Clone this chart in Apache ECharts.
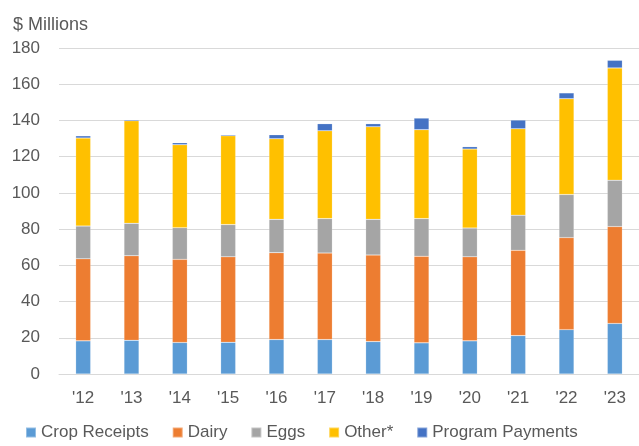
<!DOCTYPE html>
<html>
<head>
<meta charset="utf-8">
<title>Farm receipts by source</title>
<script src="https://cdn.jsdelivr.net/npm/echarts@6/dist/echarts.min.js"></script>
<style>
  html, body { margin: 0; padding: 0; background: #fff; }
  #chart { width: 639px; height: 446px; }
</style>
</head>
<body>
<div id="chart"></div>
<script>
// Annual receipts, $ millions, stacked by source
const years = ["'12", "'13", "'14", "'15", "'16", "'17", "'18", "'19", "'20", "'21", "'22", "'23"];
const cropReceipts    = [18.3, 18.6, 17.4, 17.5, 19.0, 19.0, 17.9, 17.2, 18.3, 21.2, 24.5, 27.9];
const dairy           = [45.3, 46.7, 45.9, 47.2, 48.0, 47.8, 47.8, 47.8, 46.4, 47.1, 50.8, 53.5];
const eggs            = [18.1, 17.9, 17.5, 17.8, 18.4, 19.0, 19.7, 20.8, 15.9, 19.4, 23.8, 25.6];
const other           = [48.6, 56.6, 45.8, 49.0, 44.5, 48.5, 51.1, 49.1, 43.6, 47.7, 52.9, 62.0];
const programPayments = [1.2, 0.6, 1.1, 0.6, 2.2, 3.9, 1.7, 6.4, 1.3, 4.8, 3.2, 4.2];

const seriesNames  = ['Crop Receipts', 'Dairy', 'Eggs', 'Other*', 'Program Payments'];
const seriesValues = [cropReceipts, dairy, eggs, other, programPayments];
const seriesColors = ['#5B9BD5', '#ED7D31', '#A5A5A5', '#FFC000', '#4472C4'];

const FONT = '"Liberation Sans", Arial, sans-serif';
const TEXT = '#595959';

const chart = echarts.init(document.getElementById('chart'), null, { renderer: 'canvas' });

chart.setOption({
  animation: false,
  color: seriesColors,
  title: {
    text: '$ Millions',
    left: 8,
    top: 11,
    textStyle: { fontFamily: FONT, fontSize: 18, fontWeight: 'normal', color: TEXT }
  },
  legend: {
    bottom: 0,
    left: 20,
    itemWidth: 10,
    itemHeight: 10,
    itemGap: 23,
    icon: 'rect',
    textStyle: { fontFamily: FONT, fontSize: 17, color: TEXT },
    data: seriesNames
  },
  grid: {
    left: 59,
    right: -7,
    top: 48,
    bottom: 72,
    containLabel: false
  },
  xAxis: {
    type: 'category',
    data: years,
    axisTick: { show: false },
    axisLine: { lineStyle: { color: '#D9D9D9', width: 1 } },
    axisLabel: { fontFamily: FONT, fontSize: 17, color: TEXT, margin: 16 }
  },
  yAxis: {
    type: 'value',
    min: 0,
    max: 180,
    interval: 20,
    axisLine: { show: false },
    axisTick: { show: false },
    splitLine: { lineStyle: { color: '#D9D9D9', width: 1 } },
    axisLabel: { fontFamily: FONT, fontSize: 17, color: TEXT, margin: 19 }
  },
  series: seriesNames.map((name, i) => ({
    name: name,
    type: 'bar',
    stack: 'total',
    barWidth: 15,
    data: seriesValues[i],
    itemStyle: {
      color: seriesColors[i],
      borderColor: 'rgba(255,255,255,0.35)',
      borderWidth: 0.5
    }
  }))
});
</script>
</body>
</html>
